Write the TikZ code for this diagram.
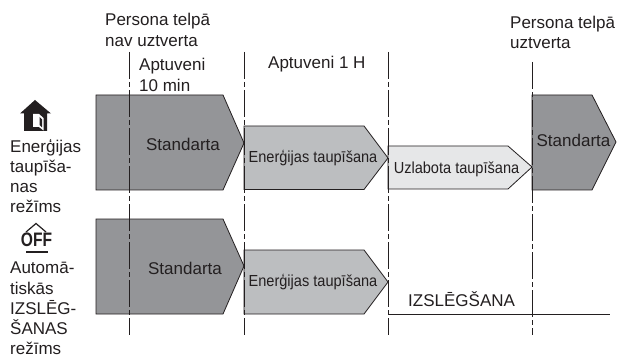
\documentclass[tikz,border=0pt]{standalone}
\usepackage{fontspec}
\setmainfont{Liberation Sans}
\usetikzlibrary{calc}
\definecolor{darkfill}{RGB}{148,149,152}
\definecolor{midfill}{RGB}{188,190,192}
\definecolor{lightfill}{RGB}{230,231,232}
\definecolor{inkc}{RGB}{35,31,32}
\newcommand{\narrow}[1]{\scalebox{.91}[1]{#1}}
\tikzset{
  lab/.style={inner sep=0pt,anchor=west,font=\fontsize{17}{20.2}\selectfont,text=inkc,align=left},
  labs/.style={inner sep=0pt,font=\fontsize{16}{18}\selectfont,text=inkc},
  arrowbox/.style={draw=inkc,line width=0.8pt,line join=miter},
  marker/.style={draw=inkc,line width=0.9pt,dash pattern=on 27pt off 3pt on 5pt off 3pt},
}
\begin{document}
\begin{tikzpicture}[x=1pt,y=-1pt]
\useasboundingbox (0,0) rectangle (618,358);
\fill[white] (0,0) rectangle (618,358);
% arrows
\draw[arrowbox,fill=darkfill] (96,95) -- (223,95) -- (244,143) -- (223,190) -- (96,190) -- cycle;
\draw[arrowbox,fill=midfill] (244,126) -- (364,126) -- (388,158) -- (364,189.5) -- (244,189.5) -- cycle;
\draw[arrowbox,fill=lightfill] (388,146) -- (508,146) -- (532,167) -- (508,189) -- (388,189) -- cycle;
\draw[arrowbox,fill=darkfill] (532,95) -- (592,95) -- (616,142) -- (592,190) -- (532,190) -- cycle;
\draw[arrowbox,fill=darkfill] (96,219) -- (223,219) -- (244,266) -- (223,314) -- (96,314) -- cycle;
\draw[arrowbox,fill=midfill] (244,250) -- (364,250) -- (388,282) -- (364,314) -- (244,314) -- cycle;
% markers
\coordinate (m1t) at (129,52); \coordinate (m1b) at (129,335);
\coordinate (m2t) at (244,52); \coordinate (m2b) at (244,335);
\coordinate (m3t) at (388,52); \coordinate (m3b) at (388,335);
\coordinate (m4t) at (532,62); \coordinate (m4b) at (532,335);
\draw[marker] (m1t) -- (m1b);
\draw[marker] (m2t) -- (m2b);
\draw[marker] (m3t) -- (m3b);
\draw[marker] (m4t) -- (m4b);
% off line
\coordinate (offa) at (388,314); \coordinate (offb) at (610,314);
\draw[draw=inkc,line width=0.8pt] (offa) -- (offb);
% labels
\node[lab] (t1) at (105,30) {Persona telpā\\nav uztverta};
\node[lab] (t2) at (139,75) {Aptuveni\\10 min};
\node[lab] (t3) at (268,64) {Aptuveni 1 H};
\node[lab] (t4) at (510,32.5) {Persona telpā\\uztverta};
\node[lab,anchor=center] (s1) at (183,144) {Standarta};
\node[lab,anchor=center] (s2) at (185,268) {Standarta};
\node[lab,anchor=center] (s3) at (573.5,140) {Standarta};
\node[labs] (e1) at (313,158) {\narrow{Enerģijas taupīšana}};
\node[labs] (e2) at (313,282) {\narrow{Enerģijas taupīšana}};
\node[labs] (u1) at (456.5,169) {\narrow{Uzlabota taupīšana}};
\node[lab] (o1) at (408,299) {IZSLĒGŠANA};
\node[lab] (l1) at (10,176) {Enerģijas\\taupīša-\\nas\\režīms};
\node[lab] (l2) at (10,308.5) {Automā-\\tiskās\\IZSLĒG-\\ŠANAS\\režīms};
% house icon
\fill[inkc] (35,100) -- (51,113.5) -- (47,113.5) -- (47,131) -- (24,131) -- (24,113.5) -- (20,113.5) -- cycle;
\fill[white] (33,114) -- (39,114) -- (43.5,118) -- (43.5,130.5) -- (39,127) -- (33,127) -- cycle;
\fill[inkc] (39.5,117) -- (42.2,119.5) -- (42.2,127.5) -- (39.5,125) -- cycle;
% OFF icon
\node[inner sep=0pt,font=\fontsize{19.5}{19.5}\selectfont\bfseries,text=inkc] (off) at (36.5,240) {\scalebox{.8}[1]{OFF}};
\draw[inkc,line width=1.2pt] (26,232) -- (36,223.5) -- (46,232);
\draw[inkc,line width=1.5pt] (26,252) -- (48,252);
\end{tikzpicture}
\end{document}
